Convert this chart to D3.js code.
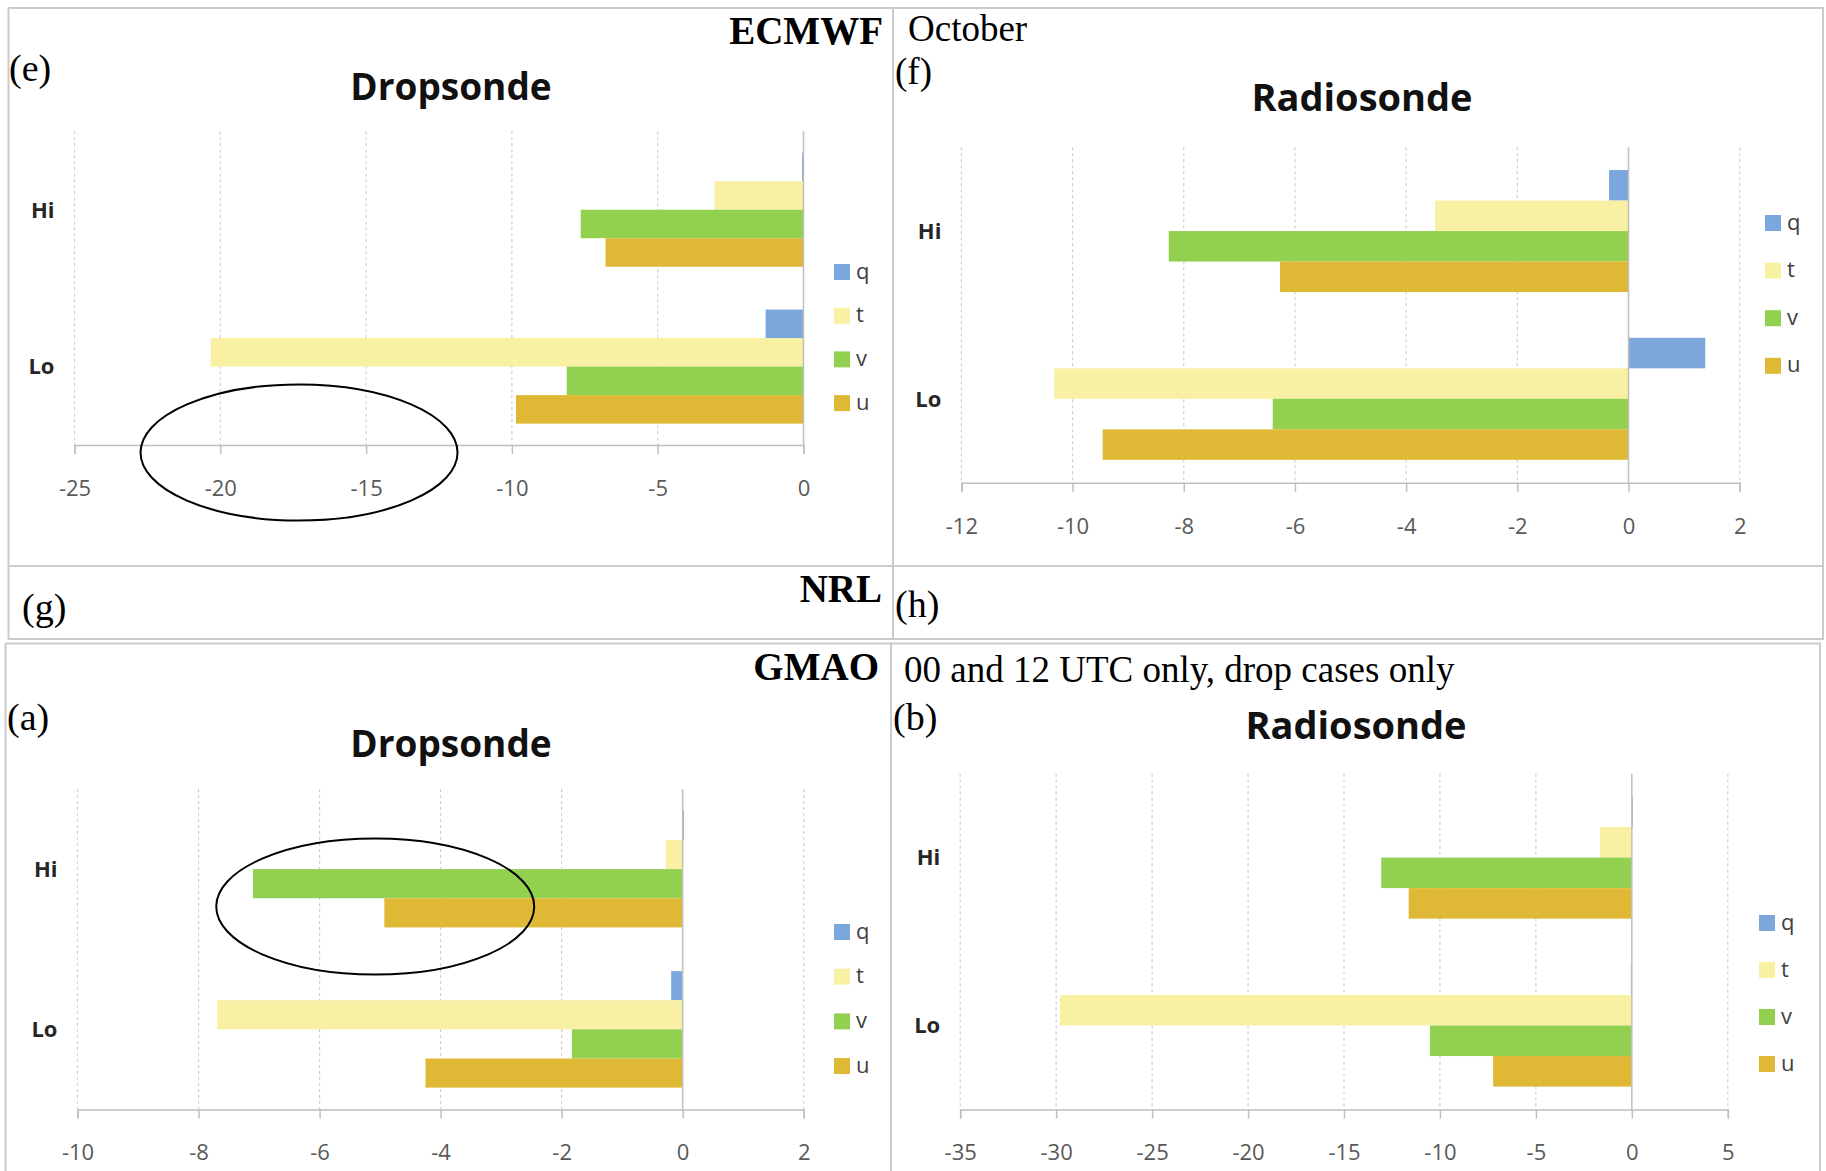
<!DOCTYPE html>
<html>
<head>
<meta charset="utf-8">
<script src="https://cdn.jsdelivr.net/npm/d3@7"></script>
<style>
  body { margin: 0; background: #fff; }
  svg { display: block; }
</style>
</head>
<body>
<div id="chart"></div>
<script>
// categories and series (top to bottom, as drawn)
var categories = ["Hi", "Lo"];
var seriesNames = ["q", "t", "v", "u"];
var seriesColors = ["#7ba7dd", "#f8f0a2", "#92d050", "#dfb936"];

// (e) ECMWF, Dropsonde
var eHi = [-0.05, -3.05, -7.64, -6.79];
var eLo = [-1.30, -20.33, -8.12, -9.86];
var eTicks = [-25, -20, -15, -10, -5, 0];

// (f) ECMWF, Radiosonde
var fHi = [-0.35, -3.48, -8.27, -6.27];
var fLo = [1.38, -10.33, -6.40, -9.46];
var fTicks = [-12, -10, -8, -6, -4, -2, 0, 2];

// (a) GMAO, Dropsonde
var aHi = [0.02, -0.28, -7.10, -4.93];
var aLo = [-0.19, -7.69, -1.83, -4.25];
var aTicks = [-10, -8, -6, -4, -2, 0, 2];

// (b) GMAO, Radiosonde
var bHi = [0.05, -1.65, -13.06, -11.63];
var bLo = [-0.05, -29.8, -10.52, -7.23];
var bTicks = [-35, -30, -25, -20, -15, -10, -5, 0, 5];

var svgWidth = 1826;
var svgHeight = 1171;

var svg = d3.select("#chart")
  .append("svg")
  .attr("width", svgWidth)
  .attr("height", svgHeight);

var sans = "'Open Sans', sans-serif";
var serif = "'Liberation Serif', 'Times New Roman', serif";

// table borders of the figure
var border = "#cbcbcb";
function hline(x1, x2, y) {
  svg.append("line").attr("x1", x1).attr("x2", x2).attr("y1", y).attr("y2", y)
    .attr("stroke", border).attr("stroke-width", 2);
}
function vline(x, y1, y2) {
  svg.append("line").attr("x1", x).attr("x2", x).attr("y1", y1).attr("y2", y2)
    .attr("stroke", border).attr("stroke-width", 2);
}
// top table (e)/(f) and the (g)/(h) row
hline(8, 1824, 8);
hline(8, 1824, 566);
hline(8, 1824, 639);
vline(8.5, 8, 639);
vline(893, 8, 639);
vline(1823, 8, 639);
// lower table (a)/(b)
hline(5, 1821, 643.5);
vline(5.5, 643.5, 1171);
vline(891, 643.5, 1171);
vline(1820, 643.5, 1171);

function drawPanel(p) {
  var g = svg.append("g");

  var x = d3.scaleLinear()
    .domain([p.ticks[0], p.ticks[p.ticks.length - 1]])
    .range([p.left, p.right]);

  var y = d3.scaleBand()
    .domain(categories)
    .range([p.top, p.bottom])
    .paddingInner(1.5 / 5.5)
    .paddingOuter(0.75 / 5.5);

  var ys = d3.scaleBand()
    .domain(seriesNames)
    .range([0, y.bandwidth()]);

  // dashed gridlines
  g.append("g").selectAll("line")
    .data(p.ticks.filter(d => d !== 0))
    .enter()
    .append("line")
    .attr("x1", d => x(d)).attr("x2", d => x(d))
    .attr("y1", p.top).attr("y2", p.bottom)
    .attr("stroke", "#cfcfcf")
    .attr("stroke-width", 1.2)
    .attr("stroke-dasharray", "3,3");

  // bars
  var rows = [];
  categories.forEach(function(c, i) {
    seriesNames.forEach(function(s, j) {
      rows.push({ cat: c, s: s, v: p.values[i][j], color: seriesColors[j] });
    });
  });

  g.append("g").selectAll("rect")
    .data(rows)
    .enter()
    .append("rect")
    .attr("x", d => x(Math.min(0, d.v)))
    .attr("width", d => Math.abs(x(d.v) - x(0)))
    .attr("y", d => y(d.cat) + ys(d.s))
    .attr("height", ys.bandwidth())
    .attr("fill", d => d.color);

  // vertical category axis at zero
  g.append("line")
    .attr("x1", x(0)).attr("x2", x(0))
    .attr("y1", p.top).attr("y2", p.bottom)
    .attr("stroke", "#bfbfbf")
    .attr("stroke-width", 1.5);

  // value axis
  var bottomAxis = d3.axisBottom(x)
    .tickValues(p.ticks)
    .tickSize(9)
    .tickFormat(d => String(d));

  var ax = g.append("g")
    .attr("transform", `translate(0, ${p.bottom})`)
    .call(bottomAxis);
  ax.select(".domain").attr("stroke", "#bfbfbf").attr("stroke-width", 1.5);
  ax.selectAll(".tick line").attr("stroke", "#bfbfbf").attr("stroke-width", 1.5);
  ax.selectAll(".tick text")
    .attr("y", 43)
    .attr("dy", "0.36em")
    .style("font-family", sans)
    .style("font-size", "22px")
    .attr("fill", "#595959");

  // category labels
  g.append("g").selectAll("text")
    .data(categories)
    .enter()
    .append("text")
    .attr("x", p.left - 20)
    .attr("y", d => y(d) + y.bandwidth() / 2)
    .attr("dy", "0.36em")
    .attr("text-anchor", "end")
    .style("font-family", sans)
    .style("font-size", "22px")
    .style("font-weight", "bold")
    .attr("fill", "#262626")
    .text(d => d);

  // chart title
  g.append("text")
    .attr("x", p.titleX)
    .attr("y", p.titleY)
    .attr("text-anchor", "middle")
    .style("font-family", sans)
    .style("font-size", p.titleSize + "px")
    .style("font-weight", "bold")
    .attr("fill", "#111")
    .text(p.title);

  // legend
  var leg = g.append("g").selectAll("g")
    .data(seriesNames)
    .enter()
    .append("g")
    .attr("transform", (d, i) => `translate(${p.legX}, ${p.legY + i * p.legStep})`);
  leg.append("rect")
    .attr("x", 0).attr("y", -8)
    .attr("width", 16).attr("height", 16)
    .attr("fill", (d, i) => seriesColors[i]);
  leg.append("text")
    .attr("x", 22)
    .attr("y", 0)
    .attr("dy", "0.3em")
    .style("font-family", sans)
    .style("font-size", "22px")
    .attr("fill", "#404040")
    .text(d => d);

  return x;
}

var xe = drawPanel({ values: [eHi, eLo], ticks: eTicks, left: 74.5, right: 803.5, top: 131.3, bottom: 445,
  title: "Dropsonde", titleX: 451, titleY: 100, titleSize: 37, legX: 834, legY: 272, legStep: 43.7 });
var xf = drawPanel({ values: [fHi, fLo], ticks: fTicks, left: 961.4, right: 1739.7, top: 147.2, bottom: 482.7,
  title: "Radiosonde", titleX: 1362, titleY: 111, titleSize: 38, legX: 1765, legY: 223, legStep: 47.6 });
var xa = drawPanel({ values: [aHi, aLo], ticks: aTicks, left: 77.5, right: 803.7, top: 789, bottom: 1109.5,
  title: "Dropsonde", titleX: 451, titleY: 757, titleSize: 37, legX: 834, legY: 932, legStep: 44.7 });
var xb = drawPanel({ values: [bHi, bLo], ticks: bTicks, left: 960.2, right: 1727.8, top: 773.6, bottom: 1109.5,
  title: "Radiosonde", titleX: 1356, titleY: 739, titleSize: 38, legX: 1759, legY: 923, legStep: 47 });

// hand drawn ellipses
svg.append("ellipse")
  .attr("cx", xe(-17.3)).attr("cy", 452.5)
  .attr("rx", 158.5).attr("ry", 68)
  .attr("fill", "none").attr("stroke", "#000").attr("stroke-width", 2);
svg.append("ellipse")
  .attr("cx", xa(-5.08)).attr("cy", 906.5)
  .attr("rx", 159).attr("ry", 68)
  .attr("fill", "none").attr("stroke", "#000").attr("stroke-width", 2);

// serif panel labels
function label(txt, x, y, size, bold, anchor) {
  svg.append("text")
    .attr("x", x).attr("y", y)
    .attr("text-anchor", anchor || "start")
    .style("font-family", serif)
    .style("font-size", size + "px")
    .style("font-weight", bold ? "bold" : "normal")
    .attr("fill", "#000")
    .text(txt);
}
label("ECMWF", 883, 44, 39, true, "end");
label("October", 908, 41, 37);
label("(e)", 9, 81, 38);
label("(f)", 895, 84, 37);
label("(g)", 22, 620, 38);
label("NRL", 882, 602, 39, true, "end");
label("(h)", 895, 617, 38);
label("GMAO", 879, 680, 39, true, "end");
label("00 and 12 UTC only, drop cases only", 904, 682, 37);
label("(a)", 7, 730, 38);
label("(b)", 893, 730, 38);
</script>
</body>
</html>
